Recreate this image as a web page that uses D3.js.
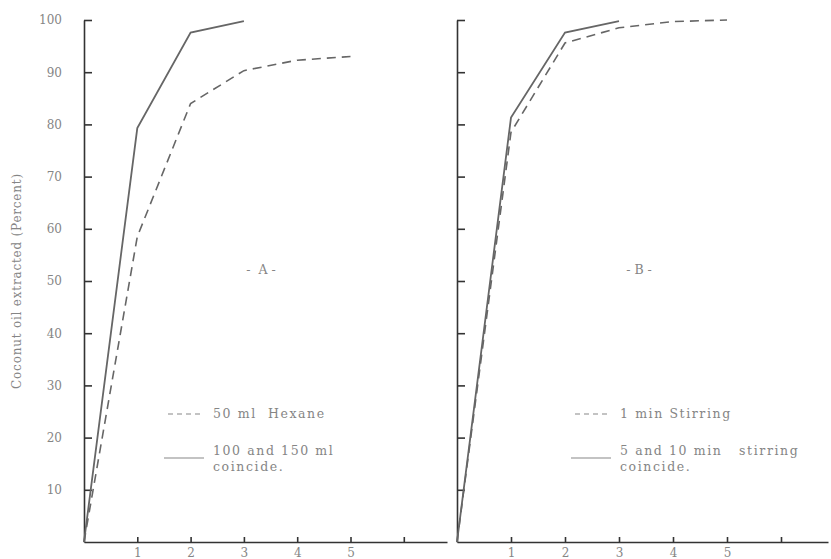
<!DOCTYPE html>
<meta charset="utf-8">
<head>
  <title>Coconut oil extraction</title>
</head>
<body style="margin:0;background:#fff">
<style>
text { font-family: "DejaVu Serif", serif; fill: #858585; white-space: pre; }
.tick text { font-size: 12px; }
.axis path, .axis line { stroke: #333; stroke-width: 1.6; }
.legend { font-size: 12.5px; letter-spacing: 1.6px; }
.panel { font-size: 12.5px; }
</style>
<svg width="831" height="559"></svg>
<script src="https://d3js.org/d3.v7.min.js"></script>
<script>

// time (x) values
var times = [0, 1, 2, 3, 4, 5];
var yTicks = [10, 20, 30, 40, 50, 60, 70, 80, 90, 100];
var xTicks = [1, 2, 3, 4, 5, 6];

// panel A : hexane volume
var hexane50 = [0, 58.5, 84, 90.3, 92.3, 93];
var hexane100 = [0, 79.3, 97.6, 99.8];

// panel B : stirring time
var stir1 = [0, 78.5, 95.6, 98.5, 99.7, 100];
var stir5 = [0, 81.3, 97.6, 99.8];

var svg = d3.select("svg");

var y = d3.scaleLinear().domain([0, 100]).range([542, 20]);

var panels = [
  { x0: 84, x1: 447, unit: 53.3, solid: hexane100, dashed: hexane50, labels: true,
    title: "-  A -", tx: 261,
    leg1: "50 ml  Hexane", leg2a: "100 and 150 ml", leg2b: "coincide.", lx: 168 },
  { x0: 457, x1: 828, unit: 54, solid: stir5, dashed: stir1, labels: false,
    title: "- B -", tx: 639,
    leg1: "1 min Stirring", leg2a: "5 and 10 min   stirring", leg2b: "coincide.", lx: 575 }
];

var line = function(x) {
  return d3.line()
    .x(function(d, i) { return x(times[i]); })
    .y(function(d) { return y(d); });
};

panels.forEach(function(p) {
  var x = d3.scaleLinear().domain([0, (p.x1 - p.x0) / p.unit]).range([p.x0, p.x1]);

  var yAxis = d3.axisLeft(y)
      .tickValues(yTicks)
      .tickSizeInner(-8)
      .tickSizeOuter(0)
      .tickPadding(22);
  if (!p.labels) yAxis.tickFormat("");

  svg.append("g")
      .attr("class", "axis")
      .attr("transform", "translate(" + p.x0 + ",0)")
      .call(yAxis);

  var xAxis = d3.axisBottom(x)
      .tickValues(xTicks)
      .tickSizeInner(-5)
      .tickSizeOuter(0)
      .tickPadding(6)
      .tickFormat(function(d) { return d < 6 ? d : ""; });

  svg.append("g")
      .attr("class", "axis")
      .attr("transform", "translate(0," + y(0) + ")")
      .call(xAxis);

  svg.append("path")
      .datum(p.dashed)
      .attr("d", line(x))
      .attr("fill", "none")
      .attr("stroke", "#666")
      .attr("stroke-width", 1.6)
      .attr("stroke-dasharray", "9,6");

  svg.append("path")
      .datum(p.solid)
      .attr("d", line(x))
      .attr("fill", "none")
      .attr("stroke", "#666")
      .attr("stroke-width", 1.8);

  svg.append("text")
      .attr("class", "panel")
      .attr("x", p.tx)
      .attr("y", 274)
      .attr("text-anchor", "middle")
      .text(p.title);

  // legend
  svg.append("line")
      .attr("x1", p.lx).attr("x2", p.lx + 36)
      .attr("y1", 414).attr("y2", 414)
      .attr("stroke", "#888").attr("stroke-width", 1.2)
      .attr("stroke-dasharray", "5,4");
  svg.append("text").attr("class", "legend")
      .attr("x", p.lx + 45).attr("y", 418).text(p.leg1);

  svg.append("line")
      .attr("x1", p.lx - 4).attr("x2", p.lx + 36)
      .attr("y1", 458).attr("y2", 458)
      .attr("stroke", "#888").attr("stroke-width", 1.2);
  svg.append("text").attr("class", "legend")
      .attr("x", p.lx + 45).attr("y", 455).text(p.leg2a);
  svg.append("text").attr("class", "legend")
      .attr("x", p.lx + 45).attr("y", 471).text(p.leg2b);
});

svg.selectAll(".tick text").attr("fill", "#858585");

svg.append("text")
    .attr("transform", "translate(21,281) rotate(-90)")
    .attr("text-anchor", "middle")
    .style("font-size", "12px")
    .style("letter-spacing", "0.8px")
    .text("Coconut oil extracted (Percent)");

</script>
</body>
